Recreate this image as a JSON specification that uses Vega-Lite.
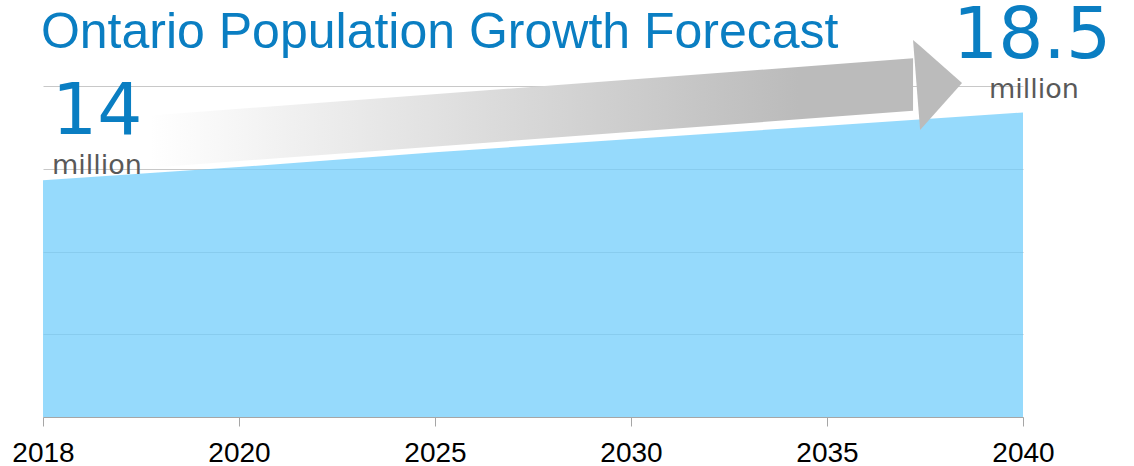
{
  "$schema": "https://vega.github.io/schema/vega-lite/v6.json",
  "width": 980,
  "height": 331,
  "autosize": {"type": "none"},
  "padding": {"left": 43, "top": 86, "right": 111, "bottom": 49},
  "background": "#ffffff",
  "config": {"view": {"stroke": null}},
  "encoding": {
    "x": {
      "field": "idx",
      "type": "quantitative",
      "scale": {"domain": [0, 5], "nice": false, "zero": false},
      "axis": {
        "values": [0, 1, 2, 3, 4, 5],
        "labelExpr": "['2018','2020','2025','2030','2035','2040'][datum.value]",
        "title": null,
        "grid": false,
        "domainColor": "#a6a6a6",
        "tickColor": "#a6a6a6",
        "tickSize": 9,
        "labelPadding": 13,
        "labelFont": "Liberation Sans",
        "labelFontSize": 28,
        "labelColor": "#000000",
        "labelFlush": false,
        "labelOverlap": false
      }
    },
    "y": {
      "field": "val",
      "type": "quantitative",
      "scale": {"domain": [0, 20], "nice": false, "zero": true},
      "axis": {
        "values": [0, 5, 10, 15, 20],
        "grid": true,
        "gridColor": "#c8c8c8",
        "domain": false,
        "ticks": false,
        "labels": false,
        "title": null
      }
    }
  },
  "layer": [
    {
      "data": {"values": [
        {"year": "2018", "idx": 0, "val": 14.3},
        {"year": "2020", "idx": 1, "val": 15.1},
        {"year": "2025", "idx": 2, "val": 16.0},
        {"year": "2030", "idx": 3, "val": 16.8},
        {"year": "2035", "idx": 4, "val": 17.6},
        {"year": "2040", "idx": 5, "val": 18.4}
      ]},
      "mark": {"type": "area", "color": "#73cefb", "opacity": 0.75}
    },
    {
      "data": {"values": [
        {"idx": 0.546, "val": 18.22, "val2": 15.06},
        {"idx": 4.439, "val": 21.67, "val2": 18.5}
      ]},
      "mark": {
        "type": "area",
        "color": {
          "gradient": "linear",
          "x1": 0, "x2": 1, "y1": 0, "y2": 0,
          "stops": [
            {"offset": 0, "color": "#ffffff"},
            {"offset": 0.85, "color": "#bbbbbb"},
            {"offset": 1, "color": "#bbbbbb"}
          ]
        }
      },
      "encoding": {"y2": {"field": "val2"}}
    },
    {
      "data": {"values": [
        {"idx": 4.439, "val": 22.78, "val2": 22.78},
        {"idx": 4.475, "val": 22.41, "val2": 17.34},
        {"idx": 4.689, "val": 20.18, "val2": 20.18}
      ]},
      "mark": {"type": "area", "color": "#bbbbbb"},
      "encoding": {"y2": {"field": "val2"}}
    },
    {
      "data": {"values": [
        {"idx": -0.0107, "val": 22.28, "label": "Ontario Population Growth Forecast"}
      ]},
      "mark": {"type": "text", "font": "Liberation Sans", "fontSize": 50, "color": "#0a7ec2", "align": "left", "baseline": "alphabetic"},
      "encoding": {"text": {"field": "label"}}
    },
    {
      "data": {"values": [
        {"idx": 0.2765, "val": 17.1, "label": "14"},
        {"idx": 5.046, "val": 21.67, "label": "18.5"}
      ]},
      "mark": {"type": "text", "font": "DejaVu Sans", "fontSize": 71, "color": "#0a7ec2", "align": "center", "baseline": "alphabetic"},
      "encoding": {"text": {"field": "label"}}
    },
    {
      "data": {"values": [
        {"idx": 0.275, "val": 14.68, "label": "million"},
        {"idx": 5.056, "val": 19.27, "label": "million"}
      ]},
      "mark": {"type": "text", "font": "DejaVu Sans", "fontSize": 27, "color": "#595959", "align": "center", "baseline": "alphabetic"},
      "encoding": {"text": {"field": "label"}}
    }
  ]
}
